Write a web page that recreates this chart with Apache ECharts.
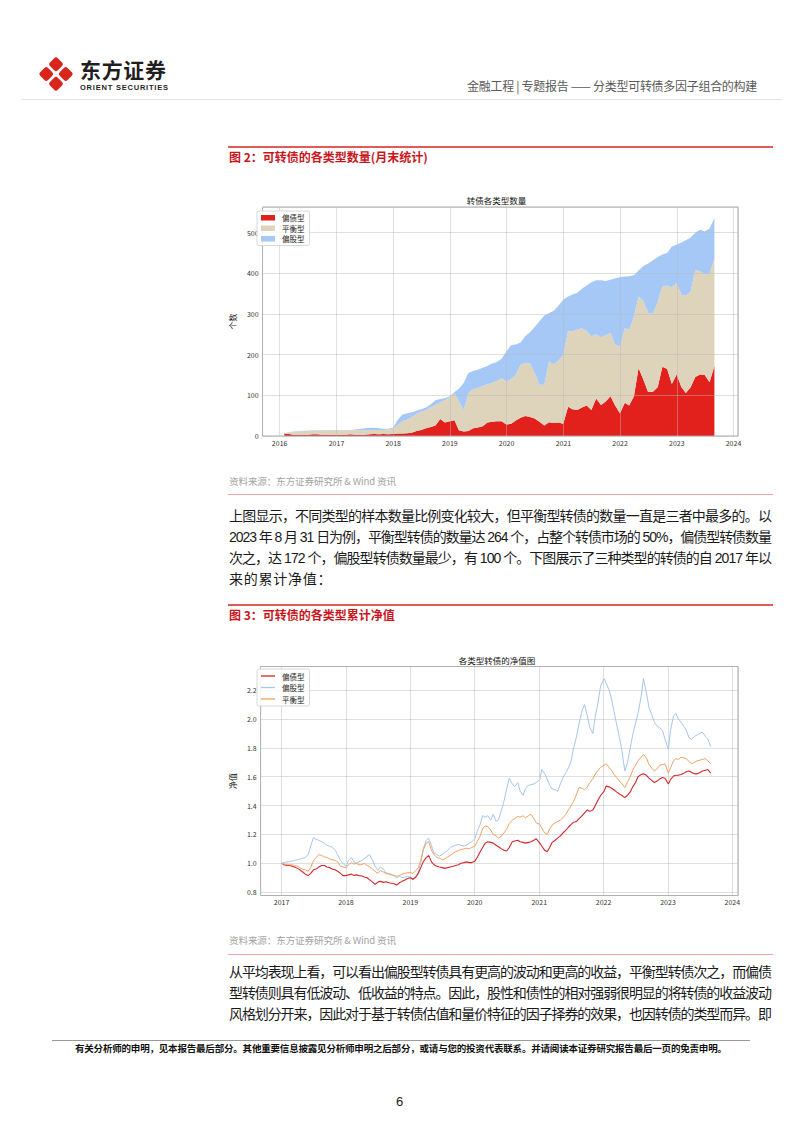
<!DOCTYPE html>
<html><head><meta charset="utf-8">
<script src="https://cdn.jsdelivr.net/npm/echarts@6/dist/echarts.min.js"></script>
<style>
html,body{margin:0;padding:0;background:#fff;}
body{width:802px;height:1133px;position:relative;overflow:hidden;font-family:"Noto Sans CJK SC","Noto Sans",sans-serif;color:#1a1a1a;}
.abs{position:absolute;white-space:nowrap;}
.fit{display:inline-block;}
.rule{position:absolute;}
.para{font-size:14px;line-height:14px;color:#1a1a1a;font-family:"Liberation Sans","Noto Sans CJK SC",sans-serif;}
.cap{font-size:12px;line-height:12px;font-weight:bold;color:#c8161d;}
.src{font-size:9.6px;line-height:9.6px;color:#a3a3a3;}
</style></head>
<body>
<svg class="abs" style="left:36px;top:54px" width="40" height="40" viewBox="0 0 40 40">
<g transform="translate(20,20) rotate(45)" fill="#d9261c">
<rect x="-12.5" y="-12.5" width="11.2" height="11.2" rx="2.6"/>
<rect x="1.3" y="-12.5" width="11.2" height="11.2" rx="2.6"/>
<rect x="-12.5" y="1.3" width="11.2" height="11.2" rx="2.6"/>
<rect x="1.3" y="1.3" width="11.2" height="11.2" rx="2.6"/>
</g></svg>
<div class="abs fit" data-w="86" style="left:80px;top:59px;font-size:21px;line-height:21px;font-weight:bold;color:#1f1f1f;">东方证券</div>
<div class="abs fit" data-w="88" style="left:80px;top:84px;font-size:7.5px;line-height:7.5px;font-weight:bold;color:#1f1f1f;font-family:'Liberation Sans',Arial,sans-serif;">ORIENT SECURITIES</div>
<div class="abs fit" data-w="290" style="left:467px;top:80px;font-size:12px;line-height:12px;color:#5a5a5a;">金融工程 | 专题报告 —— 分类型可转债多因子组合的构建</div>
<div class="rule" style="left:22px;top:99px;width:760px;height:1px;background:#e3e3e3;"></div>

<div class="rule" style="left:228px;top:146px;width:545px;height:1.5px;background:#e05a5a;"></div>
<div class="abs cap" style="left:229px;top:151px;">图 2：可转债的各类型数量(月末统计)</div>

<div id="c1" style="position:absolute;left:220px;top:185px;width:530px;height:270px;"></div>

<div class="abs fit src" data-w="167" style="left:229px;top:477px;">资料来源：东方证券研究所 &amp; Wind 资讯</div>
<div class="rule" style="left:228px;top:494px;width:545px;height:1px;background:#f0a6a6;"></div>

<div class="abs fit para" data-w="543" style="left:229px;top:509px;">上图显示，不同类型的样本数量比例变化较大，但平衡型转债的数量一直是三者中最多的。以</div>
<div class="abs fit para" data-w="543" style="left:229px;top:530px;">2023 年 8 月 31 日为例，平衡型转债的数量达 264 个，占整个转债市场的 50%，偏债型转债数量</div>
<div class="abs fit para" data-w="543" style="left:229px;top:551px;">次之，达 172 个，偏股型转债数量最少，有 100 个。下图展示了三种类型的转债的自 2017 年以</div>
<div class="abs para" style="left:229px;top:572px;letter-spacing:0.75px;">来的累计净值：</div>

<div class="rule" style="left:228px;top:604px;width:545px;height:1.5px;background:#e05a5a;"></div>
<div class="abs cap" style="left:229px;top:609px;">图 3：可转债的各类型累计净值</div>

<div id="c2" style="position:absolute;left:220px;top:645px;width:530px;height:270px;"></div>

<div class="abs fit src" data-w="167" style="left:229px;top:936px;">资料来源：东方证券研究所 &amp; Wind 资讯</div>
<div class="rule" style="left:228px;top:954px;width:545px;height:1px;background:#f0a6a6;"></div>

<div class="abs fit para" data-w="543" style="left:229px;top:965px;">从平均表现上看，可以看出偏股型转债具有更高的波动和更高的收益，平衡型转债次之，而偏债</div>
<div class="abs fit para" data-w="543" style="left:229px;top:986px;">型转债则具有低波动、低收益的特点。因此，股性和债性的相对强弱很明显的将转债的收益波动</div>
<div class="abs fit para" data-w="543" style="left:229px;top:1007px;">风格划分开来，因此对于基于转债估值和量价特征的因子择券的效果，也因转债的类型而异。即</div>

<div class="rule" style="left:52px;top:1040px;width:698px;height:1px;background:#9a9a9a;"></div>
<div class="abs fit" data-w="652" style="left:75px;top:1044px;font-size:9.5px;line-height:9.5px;font-weight:bold;color:#111;">有关分析师的申明，见本报告最后部分。其他重要信息披露见分析师申明之后部分，或请与您的投资代表联系。并请阅读本证券研究报告最后一页的免责申明。</div>
<div class="abs" style="left:396px;top:1095px;font-size:13px;line-height:13px;color:#222;font-family:'Liberation Sans',Arial,sans-serif;">6</div>

<script>
// ---------- Figure 2: monthly counts by type ----------
const countMonths = [
'2016-01','2016-02','2016-03','2016-04','2016-05','2016-06','2016-07','2016-08','2016-09','2016-10','2016-11','2016-12',
'2017-01','2017-02','2017-03','2017-04','2017-05','2017-06','2017-07','2017-08','2017-09','2017-10','2017-11','2017-12',
'2018-01','2018-02','2018-03','2018-04','2018-05','2018-06','2018-07','2018-08','2018-09','2018-10','2018-11','2018-12',
'2019-01','2019-02','2019-03','2019-04','2019-05','2019-06','2019-07','2019-08','2019-09','2019-10','2019-11','2019-12',
'2020-01','2020-02','2020-03','2020-04','2020-05','2020-06','2020-07','2020-08','2020-09','2020-10','2020-11','2020-12',
'2021-01','2021-02','2021-03','2021-04','2021-05','2021-06','2021-07','2021-08','2021-09','2021-10','2021-11','2021-12',
'2022-01','2022-02','2022-03','2022-04','2022-05','2022-06','2022-07','2022-08','2022-09','2022-10','2022-11','2022-12',
'2023-01','2023-02','2023-03','2023-04','2023-05','2023-06','2023-07','2023-08'];
const bondCount = [
6,5,3,3,3,3,4,4,3,3,3,3,
3,3,4,3,3,3,4,5,4,5,4,5,
6,6,7,8,12,15,19,22,26,42,33,36,
39,14,11,12,19,21,24,33,35,36,36,28,
30,38,45,49,47,43,35,26,34,32,33,30,
72,66,64,70,75,64,92,76,85,98,75,56,
82,75,98,167,138,108,109,120,170,165,128,151,
120,106,120,145,151,150,132,172];
const balancedCount = [
1,3,7,8,9,9,9,9,10,11,11,11,
11,11,10,11,11,12,11,10,11,10,12,13,
21,30,33,39,42,44,45,48,50,41,55,59,
66,71,52,93,96,97,99,94,95,100,106,106,
110,112,130,131,131,111,91,100,149,144,152,170,
186,191,198,195,183,181,158,167,163,155,150,164,
183,186,196,176,194,195,191,210,198,205,238,225,
227,239,235,263,254,247,268,264];
const equityCount = [
0,1,1,1,1,1,1,1,1,1,1,1,
1,1,1,2,3,4,5,5,4,3,2,2,
13,16,16,11,8,7,6,8,12,8,5,3,
3,31,67,50,45,45,45,45,48,46,48,74,
84,75,55,65,77,114,156,170,119,132,135,135,
85,91,90,97,112,133,133,140,133,131,163,170,
127,132,101,64,86,121,132,110,78,80,100,94,
129,136,133,92,102,106,110,100];
const countNames = ['偏债型','平衡型','偏股型'];
const countYTicks = [0,100,200,300,400,500];

// ---------- Figure 3: cumulative NAV by type ----------
const navDates = (
'2017-01-03 2017-01-15 2017-02-01 2017-02-15 2017-03-01 2017-03-15 2017-04-01 2017-04-15 2017-05-01 2017-05-15 2017-06-01 2017-06-15 2017-07-01 2017-07-15 2017-08-01 2017-08-15 2017-09-01 2017-09-15 2017-10-01 2017-10-15 2017-11-01 2017-11-15 2017-12-01 2017-12-15 ' +
'2018-01-02 2018-01-15 2018-02-01 2018-02-15 2018-03-01 2018-03-15 2018-04-01 2018-04-15 2018-05-01 2018-05-15 2018-06-01 2018-06-15 2018-07-01 2018-07-15 2018-08-01 2018-08-15 2018-09-01 2018-09-15 2018-10-01 2018-10-15 2018-11-01 2018-11-15 2018-12-01 2018-12-15 ' +
'2019-01-02 2019-01-15 2019-02-01 2019-02-15 2019-03-01 2019-03-15 2019-04-01 2019-04-15 2019-05-01 2019-05-15 2019-06-01 2019-06-15 2019-07-01 2019-07-15 2019-08-01 2019-08-15 2019-09-01 2019-09-15 2019-10-01 2019-10-15 2019-11-01 2019-11-15 2019-12-01 2019-12-15 ' +
'2020-01-02 2020-01-15 2020-02-01 2020-02-15 2020-03-01 2020-03-15 2020-04-01 2020-04-15 2020-05-01 2020-05-15 2020-06-01 2020-06-15 2020-07-01 2020-07-15 2020-08-01 2020-08-15 2020-09-01 2020-09-15 2020-10-01 2020-10-15 2020-11-01 2020-11-15 2020-12-01 2020-12-15 ' +
'2021-01-04 2021-01-15 2021-02-01 2021-02-15 2021-03-01 2021-03-15 2021-04-01 2021-04-15 2021-05-01 2021-05-15 2021-06-01 2021-06-15 2021-07-01 2021-07-15 2021-08-01 2021-08-15 2021-09-01 2021-09-15 2021-10-01 2021-10-15 2021-11-01 2021-11-15 2021-12-01 2021-12-15 ' +
'2022-01-04 2022-01-15 2022-02-01 2022-02-15 2022-03-01 2022-03-15 2022-04-01 2022-04-15 2022-05-01 2022-05-15 2022-06-01 2022-06-15 2022-07-01 2022-07-15 2022-08-01 2022-08-15 2022-09-01 2022-09-15 2022-10-01 2022-10-15 2022-11-01 2022-11-15 2022-12-01 2022-12-15 ' +
'2023-01-03 2023-01-15 2023-02-01 2023-02-15 2023-03-01 2023-03-15 2023-04-01 2023-04-15 2023-05-01 2023-05-15 2023-06-01 2023-06-15 2023-07-01 2023-07-15 2023-08-01 2023-08-15 2023-08-31').split(' ');
const navBond = [
1.00,0.99,0.985,0.985,0.98,0.975,0.965,0.955,0.94,0.925,0.915,0.93,0.955,0.96,0.975,0.985,0.985,0.975,0.97,0.96,0.955,0.945,0.93,0.915,
0.915,0.92,0.925,0.915,0.92,0.915,0.912,0.905,0.90,0.885,0.87,0.855,0.87,0.875,0.868,0.872,0.865,0.862,0.858,0.85,0.865,0.875,0.885,0.895,
0.90,0.89,0.905,0.93,0.97,1.01,1.04,1.055,1.01,0.99,0.98,0.975,0.97,0.965,0.97,0.975,0.98,0.985,0.99,1.00,1.005,1.01,1.005,1.005,
1.015,1.04,1.08,1.11,1.14,1.15,1.145,1.14,1.125,1.115,1.10,1.09,1.085,1.11,1.15,1.155,1.16,1.15,1.145,1.14,1.145,1.15,1.16,1.17,
1.14,1.12,1.09,1.08,1.11,1.145,1.16,1.175,1.19,1.21,1.23,1.25,1.27,1.285,1.29,1.31,1.33,1.35,1.37,1.36,1.37,1.40,1.44,1.47,
1.50,1.535,1.53,1.52,1.51,1.495,1.48,1.47,1.455,1.47,1.495,1.53,1.56,1.60,1.615,1.62,1.61,1.59,1.575,1.56,1.57,1.585,1.595,1.59,
1.55,1.58,1.605,1.61,1.61,1.615,1.625,1.635,1.64,1.63,1.62,1.62,1.63,1.64,1.645,1.65,1.625];
const navBalanced = [
1.00,0.995,0.99,0.99,0.99,0.985,0.98,0.97,0.96,0.955,0.945,0.97,1.02,1.04,1.06,1.055,1.045,1.04,1.03,1.025,1.02,1.01,0.98,0.975,
0.97,0.99,1.005,0.995,1.00,0.99,0.99,1.00,0.985,0.975,0.96,0.945,0.93,0.95,0.94,0.93,0.925,0.92,0.915,0.91,0.915,0.925,0.93,0.935,
0.935,0.93,0.95,0.97,1.02,1.09,1.14,1.15,1.09,1.06,1.04,1.035,1.025,1.03,1.045,1.055,1.07,1.08,1.09,1.095,1.10,1.105,1.10,1.11,
1.12,1.15,1.19,1.24,1.26,1.255,1.23,1.20,1.19,1.175,1.19,1.21,1.24,1.275,1.30,1.31,1.325,1.32,1.33,1.315,1.33,1.34,1.31,1.28,
1.27,1.245,1.21,1.20,1.24,1.265,1.28,1.29,1.30,1.315,1.34,1.37,1.40,1.43,1.48,1.525,1.52,1.51,1.53,1.56,1.585,1.62,1.645,1.665,
1.68,1.69,1.665,1.645,1.615,1.595,1.57,1.55,1.525,1.56,1.60,1.645,1.68,1.71,1.735,1.755,1.73,1.685,1.66,1.64,1.655,1.68,1.685,1.69,
1.625,1.66,1.71,1.725,1.72,1.735,1.73,1.725,1.705,1.69,1.70,1.71,1.715,1.72,1.725,1.71,1.69];
const navEquity = [
1.00,1.005,1.01,1.012,1.015,1.02,1.025,1.03,1.035,1.04,1.06,1.12,1.18,1.165,1.16,1.15,1.14,1.125,1.12,1.11,1.09,1.06,1.02,1.00,
0.98,1.02,1.04,1.01,1.00,1.01,1.02,1.03,1.05,1.06,1.02,0.98,0.95,0.975,0.96,0.935,0.93,0.925,0.915,0.90,0.91,0.90,0.905,0.91,
0.905,0.885,0.90,0.94,1.00,1.10,1.16,1.175,1.12,1.07,1.06,1.05,1.06,1.075,1.09,1.11,1.12,1.125,1.13,1.125,1.12,1.125,1.14,1.15,
1.17,1.22,1.27,1.33,1.32,1.33,1.30,1.34,1.29,1.30,1.37,1.43,1.52,1.59,1.55,1.53,1.56,1.50,1.47,1.52,1.54,1.545,1.55,1.56,
1.58,1.65,1.62,1.585,1.54,1.515,1.51,1.50,1.55,1.59,1.63,1.66,1.71,1.80,1.88,1.97,2.06,2.10,2.02,1.94,1.90,2.02,2.12,2.23,
2.28,2.25,2.20,2.14,2.05,1.97,1.87,1.78,1.64,1.69,1.80,1.89,1.97,2.04,2.15,2.28,2.18,2.08,2.03,1.98,1.95,1.94,1.92,1.86,
1.79,1.92,2.02,2.04,2.00,1.98,1.95,1.92,1.87,1.86,1.88,1.89,1.90,1.91,1.88,1.86,1.81];
const navNames = ['偏债型','偏股型','平衡型'];
const navYTicks = [0.8,1.0,1.2,1.4,1.6,1.8,2.0,2.2];

// ---------- helpers ----------
const FONT = '"Noto Sans CJK SC", "Noto Sans", sans-serif';
const YEAR = 365.25 * 86400000;
const parseDay = s => { const p = s.split('-').map(Number); return new Date(p[0], p[1]-1, p[2]).getTime(); };
const monthEnd = s => { const p = s.split('-').map(Number); return new Date(p[0], p[1], 0).getTime(); };
const gridLine = {show:true, lineStyle:{color:'rgba(185,185,185,0.45)', width:1}};
const yearLabel = v => String(new Date(v).getFullYear());

function xAxisTime(min, max) {
  return {type:'time', min:min, max:max, minInterval:YEAR*0.99, maxInterval:YEAR*1.01,
    axisLine:{show:false}, axisTick:{show:false}, splitLine:gridLine,
    axisLabel:{fontSize:7, color:'#333', margin:3, fontFamily:FONT, showMinLabel:false, showMaxLabel:false,
      formatter: yearLabel, hideOverlap:false}};
}

// ---------- chart 1 ----------
const c1 = echarts.init(document.getElementById('c1'), null, {renderer:'svg'});
const xsCount = countMonths.map(monthEnd);
const pairC = arr => arr.map((v,i) => [xsCount[i], v]);
const areaColors = ['#E2211C', '#DED4BC', '#A5C8F7'];
const countSeries = [bondCount, balancedCount, equityCount].map((arr, k) => ({
  name: countNames[k], type:'line', stack:'total', data: pairC(arr), symbol:'none', showSymbol:false,
  lineStyle:{width:0, opacity:0}, areaStyle:{color:areaColors[k], opacity:1},
  itemStyle:{color:areaColors[k]}, z:-1, silent:true, emphasis:{disabled:true}
}));
c1.setOption({
  animation:false,
  textStyle:{fontFamily:FONT},
  grid:{left:35, top:22, width:483, height:229, show:true, borderColor:'#a9a9a9', borderWidth:1, backgroundColor:'transparent'},
  xAxis: xAxisTime(new Date(2015,8,13).getTime(), new Date(2024,0,30).getTime()),
  yAxis:{type:'value', min:countYTicks[0], max:563, interval:countYTicks[1]-countYTicks[0],
    name:'个数', nameLocation:'middle', nameGap:20, nameRotate:90,
    nameTextStyle:{fontSize:8, color:'#222', fontFamily:FONT},
    axisLine:{show:false}, axisTick:{show:false}, splitLine:gridLine,
    axisLabel:{fontSize:7, color:'#333', margin:4, fontFamily:FONT, showMaxLabel:false}},
  legend:{orient:'vertical', left:37, top:26, data:countNames, icon:'rect', itemWidth:14, itemHeight:5.5, itemGap:3,
    padding:[3,5,3,4], backgroundColor:'rgba(255,255,255,0.85)', borderColor:'#d8d8d8', borderWidth:1, borderRadius:2,
    textStyle:{fontSize:7.5, color:'#222', fontFamily:FONT, padding:[0,0,0,2]}, selectedMode:false},
  graphic:[{type:'text', x:276.5, y:15, silent:true,
    style:{text:'转债各类型数量', fontSize:8.5, fill:'#111', align:'center', verticalAlign:'middle', fontFamily:FONT}}],
  series: countSeries
});

// ---------- chart 2 ----------
const c2 = echarts.init(document.getElementById('c2'), null, {renderer:'svg'});
const xsNav = navDates.map(parseDay);
const pairN = arr => arr.map((v,i) => [xsNav[i], v]);
const lineColors = ['#D5262B', '#A7C6EE', '#F1A262'];
const navSeries = [navBond, navEquity, navBalanced].map((arr, k) => ({
  name: navNames[k], type:'line', data: pairN(arr), symbol:'none', showSymbol:false,
  lineStyle:{width: k===0 ? 1.1 : 1, color:lineColors[k]}, itemStyle:{color:lineColors[k]},
  silent:true, emphasis:{disabled:true}, z: k===1 ? 2 : 3
}));
c2.setOption({
  animation:false,
  textStyle:{fontFamily:FONT},
  grid:{left:36, top:21.5, width:482, height:229, show:true, borderColor:'#a9a9a9', borderWidth:1, backgroundColor:'transparent'},
  xAxis: xAxisTime(new Date(2016,8,4).getTime(), new Date(2024,1,2).getTime()),
  yAxis:{type:'value', min:0.777, max:2.364, splitNumber:8,
    name:'净值', nameLocation:'middle', nameGap:18, nameRotate:90,
    nameTextStyle:{fontSize:8, color:'#222', fontFamily:FONT},
    axisLine:{show:false}, axisTick:{show:false}, splitLine:gridLine,
    axisLabel:{fontSize:7, color:'#333', margin:4, fontFamily:FONT, showMinLabel:false, showMaxLabel:false,
      formatter: v => navYTicks.some(t => Math.abs(t - v) < 1e-6) ? v.toFixed(1) : ''}},
  legend:{orient:'vertical', left:37, top:24, data:navNames, icon:'rect', itemWidth:14, itemHeight:1.3, itemGap:3.5,
    padding:[3,5,3,4], backgroundColor:'rgba(255,255,255,0.85)', borderColor:'#d8d8d8', borderWidth:1, borderRadius:2,
    textStyle:{fontSize:7.5, color:'#222', fontFamily:FONT, padding:[0,0,0,2], lineHeight:8}, selectedMode:false},
  graphic:[{type:'text', x:277, y:15, silent:true,
    style:{text:'各类型转债的净值图', fontSize:8.5, fill:'#111', align:'center', verticalAlign:'middle', fontFamily:FONT}}],
  series: navSeries
});

// ---------- fit text lines to their widths ----------
function fitAll() {
  document.querySelectorAll('[data-w]').forEach(el => {
    el.style.letterSpacing = '0px';
    const w = el.getBoundingClientRect().width;
    const n = Array.from(el.textContent).length;
    const target = +el.dataset.w;
    if (n > 1) el.style.letterSpacing = ((target - w) / (n - 1)).toFixed(3) + 'px';
  });
}
fitAll();
if (document.fonts && document.fonts.ready) document.fonts.ready.then(fitAll);
</script>
</body></html>
